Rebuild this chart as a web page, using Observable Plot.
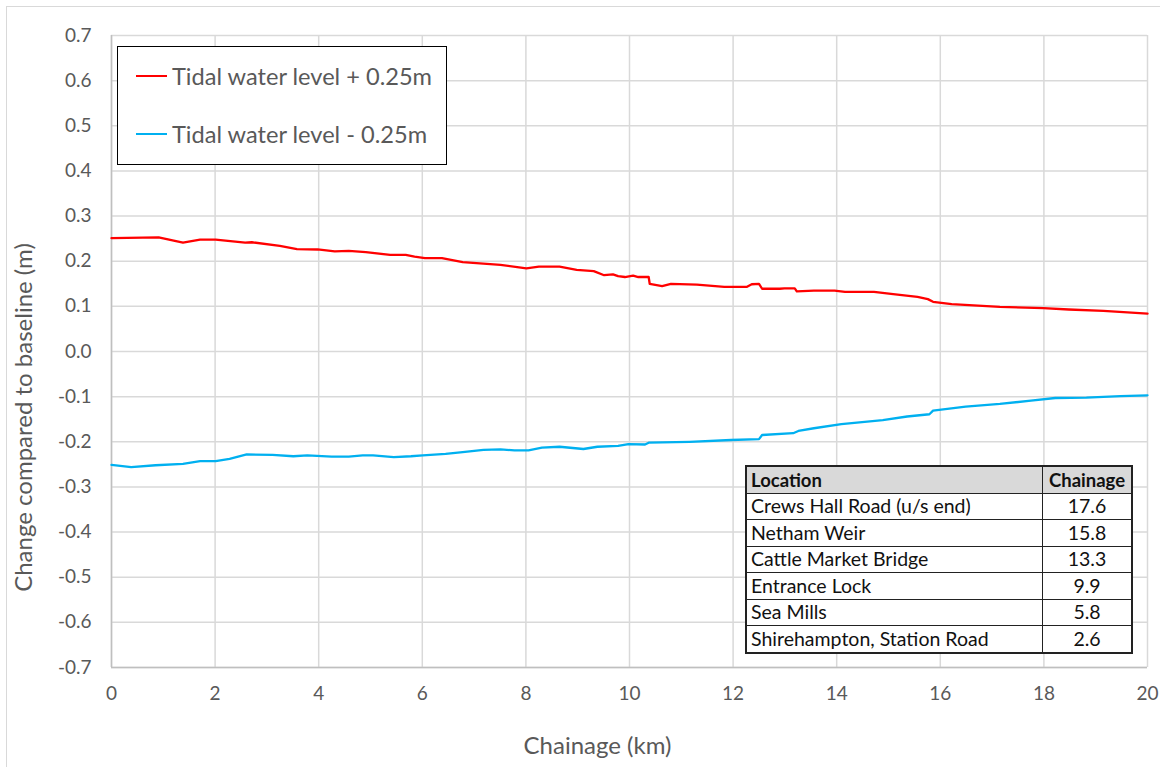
<!DOCTYPE html>
<html>
<head>
<meta charset="utf-8">
<script src="https://cdn.jsdelivr.net/npm/d3@7"></script>
<script src="https://cdn.jsdelivr.net/npm/@observablehq/plot@0.6"></script>
<style>
  html, body { margin: 0; padding: 0; background: #fff; }
  body { width: 1160px; height: 767px; position: relative; overflow: hidden; font-family: Lato, "Open Sans", sans-serif; }
  #frame { position: absolute; left: 6px; top: 6px; width: 1200px; height: 800px; border: 1.5px solid #d9d9d9; box-sizing: border-box; }
  #chart { position: absolute; left: 0; top: 0; }
  #chart svg text { font-family: Lato, "Open Sans", sans-serif; }
  #legend { position: absolute; left: 117px; top: 46px; width: 330px; height: 119px; border: 1.5px solid #000; box-sizing: border-box; background: #fff; }
  .lg-row { position: absolute; left: 18px; height: 30px; display: flex; align-items: center; color: #595959; font-size: 23.6px; white-space: nowrap; }
  .lg-swatch { width: 31px; height: 2.5px; margin-right: 5px; }
  #loc { position: absolute; left: 745px; top: 465px; border-collapse: collapse; background: #fff; border: 2px solid #222; font-size: 19.5px; color: #111; table-layout: fixed; }
  #loc td, #loc th { border: 1px solid #222; height: 25.5px; padding: 0 4px; line-height: 24px; overflow: hidden; white-space: nowrap; }
  #loc th { background: #d9d9d9; font-weight: bold; text-align: left; font-size: 18.5px; }
  #loc td.c, #loc th.c { text-align: center; }
</style>
</head>
<body>
<div id="frame"></div>
<div id="chart"></div>
<div id="legend"></div>
<table id="loc"></table>
<script>
// ---- Data ----
const seriesNames = ["Tidal water level + 0.25m", "Tidal water level - 0.25m"];
const seriesColors = ["#ff0000", "#00b0f0"];

const plusKm = [0, 0.91, 1.38, 1.71, 2.01, 2.58, 2.71, 3.25, 3.58, 3.98, 4.31, 4.58, 4.91, 5.38, 5.68, 5.85, 6.05, 6.38, 6.78, 7.51, 8.01, 8.25, 8.65, 8.98, 9.31, 9.51, 9.68, 9.78, 9.91, 10.07, 10.17, 10.37, 10.39, 10.63, 10.8, 11.3, 11.83, 12.26, 12.36, 12.5, 12.56, 12.9, 12.99, 13.19, 13.23, 13.56, 13.96, 14.16, 14.72, 15.09, 15.56, 15.76, 15.86, 16.22, 17.15, 17.99, 18.48, 19.15, 20];
const plusVal = [0.251, 0.253, 0.241, 0.248, 0.248, 0.241, 0.242, 0.234, 0.227, 0.226, 0.222, 0.223, 0.220, 0.214, 0.214, 0.210, 0.207, 0.207, 0.198, 0.192, 0.184, 0.188, 0.188, 0.181, 0.178, 0.169, 0.171, 0.167, 0.165, 0.168, 0.165, 0.165, 0.150, 0.145, 0.150, 0.148, 0.143, 0.143, 0.149, 0.150, 0.139, 0.139, 0.140, 0.140, 0.133, 0.135, 0.135, 0.132, 0.132, 0.127, 0.121, 0.116, 0.110, 0.105, 0.099, 0.096, 0.093, 0.090, 0.084];

const minusKm = [0, 0.38, 0.85, 1.38, 1.71, 2.01, 2.28, 2.61, 3.11, 3.51, 3.78, 4.25, 4.58, 4.85, 5.05, 5.45, 5.78, 6.01, 6.45, 6.78, 7.18, 7.51, 7.78, 8.05, 8.31, 8.65, 9.11, 9.38, 9.78, 9.98, 10.3, 10.37, 11.16, 11.96, 12.5, 12.56, 13.16, 13.26, 13.56, 14.09, 14.89, 15.36, 15.79, 15.86, 16.49, 17.15, 17.75, 18.22, 18.82, 19.48, 20];
const minusVal = [-0.251, -0.256, -0.252, -0.249, -0.243, -0.243, -0.238, -0.228, -0.229, -0.232, -0.230, -0.233, -0.233, -0.230, -0.230, -0.234, -0.232, -0.230, -0.227, -0.223, -0.218, -0.217, -0.219, -0.219, -0.213, -0.211, -0.216, -0.211, -0.209, -0.205, -0.206, -0.202, -0.200, -0.196, -0.194, -0.185, -0.181, -0.176, -0.170, -0.161, -0.152, -0.144, -0.139, -0.131, -0.122, -0.116, -0.109, -0.103, -0.102, -0.099, -0.097];

const xTicks = [0, 2, 4, 6, 8, 10, 12, 14, 16, 18, 20];
const yTicks = [-0.7, -0.6, -0.5, -0.4, -0.3, -0.2, -0.1, 0, 0.1, 0.2, 0.3, 0.4, 0.5, 0.6, 0.7];

const locations = ["Crews Hall Road (u/s end)", "Netham Weir", "Cattle Market Bridge", "Entrance Lock", "Sea Mills", "Shirehampton, Station Road"];
const chainages = ["17.6", "15.8", "13.3", "9.9", "5.8", "2.6"];
const tableHeader = ["Location", "Chainage"];

const xLabel = "Chainage (km)";
const yLabel = "Change compared to baseline (m)";

// ---- Build ----
const plusData = plusKm.map((x, i) => ({x, y: plusVal[i]}));
const minusData = minusKm.map((x, i) => ({x, y: minusVal[i]}));

const chart = Plot.plot({
  width: 1160,
  height: 767,
  marginLeft: 111,
  marginRight: 13,
  marginTop: 35,
  marginBottom: 100,
  style: {background: "transparent", overflow: "visible"},
  x: {domain: [0, 20]},
  y: {domain: [-0.7, 0.7]},
  marks: [
    Plot.gridX(xTicks, {stroke: "#d9d9d9", strokeOpacity: 1, strokeWidth: 1.5}),
    Plot.gridY(yTicks, {stroke: "#d9d9d9", strokeOpacity: 1, strokeWidth: 1.5}),
    Plot.ruleX([0], {stroke: "#bfbfbf", strokeWidth: 1.5}),
    Plot.ruleY([-0.7], {stroke: "#bfbfbf", strokeWidth: 1.5}),
    Plot.axisX(xTicks, {tickSize: 0, tickPadding: 19, fontSize: 19, fill: "#595959", label: null}),
    Plot.axisY(yTicks, {tickSize: 0, tickPadding: 20, fontSize: 19, fill: "#595959", tickFormat: d => d.toFixed(1), label: null}),
    Plot.text([xLabel], {text: d => d, frameAnchor: "bottom", lineAnchor: "bottom", dx: -32, dy: 86, fontSize: 24, fill: "#595959"}),
    Plot.text([yLabel], {text: d => d, frameAnchor: "left", textAnchor: "middle", lineAnchor: "top", rotate: -90, dx: -97, dy: 66, fontSize: 24, fill: "#595959"}),
    Plot.line(plusData, {x: "x", y: "y", stroke: seriesColors[0], strokeWidth: 2.3, curve: "linear"}),
    Plot.line(minusData, {x: "x", y: "y", stroke: seriesColors[1], strokeWidth: 2.3, curve: "linear"})
  ]
});
document.getElementById("chart").appendChild(chart);

// Legend
const legend = document.getElementById("legend");
seriesNames.forEach((name, i) => {
  const row = document.createElement("div");
  row.className = "lg-row";
  row.style.top = (i === 0 ? 14 : 72) + "px";
  const sw = document.createElement("div");
  sw.className = "lg-swatch";
  sw.style.background = seriesColors[i];
  const tx = document.createElement("span");
  tx.textContent = name;
  row.appendChild(sw);
  row.appendChild(tx);
  legend.appendChild(row);
});

// Table
const table = document.getElementById("loc");
const hr = document.createElement("tr");
tableHeader.forEach((h, i) => {
  const th = document.createElement("th");
  th.textContent = h;
  if (i === 1) th.className = "c";
  th.style.width = i === 0 ? "287px" : "80px";
  hr.appendChild(th);
});
table.appendChild(hr);
locations.forEach((loc, i) => {
  const tr = document.createElement("tr");
  const a = document.createElement("td");
  a.textContent = loc;
  const b = document.createElement("td");
  b.textContent = chainages[i];
  b.className = "c";
  tr.appendChild(a);
  tr.appendChild(b);
  table.appendChild(tr);
});
</script>
</body>
</html>
